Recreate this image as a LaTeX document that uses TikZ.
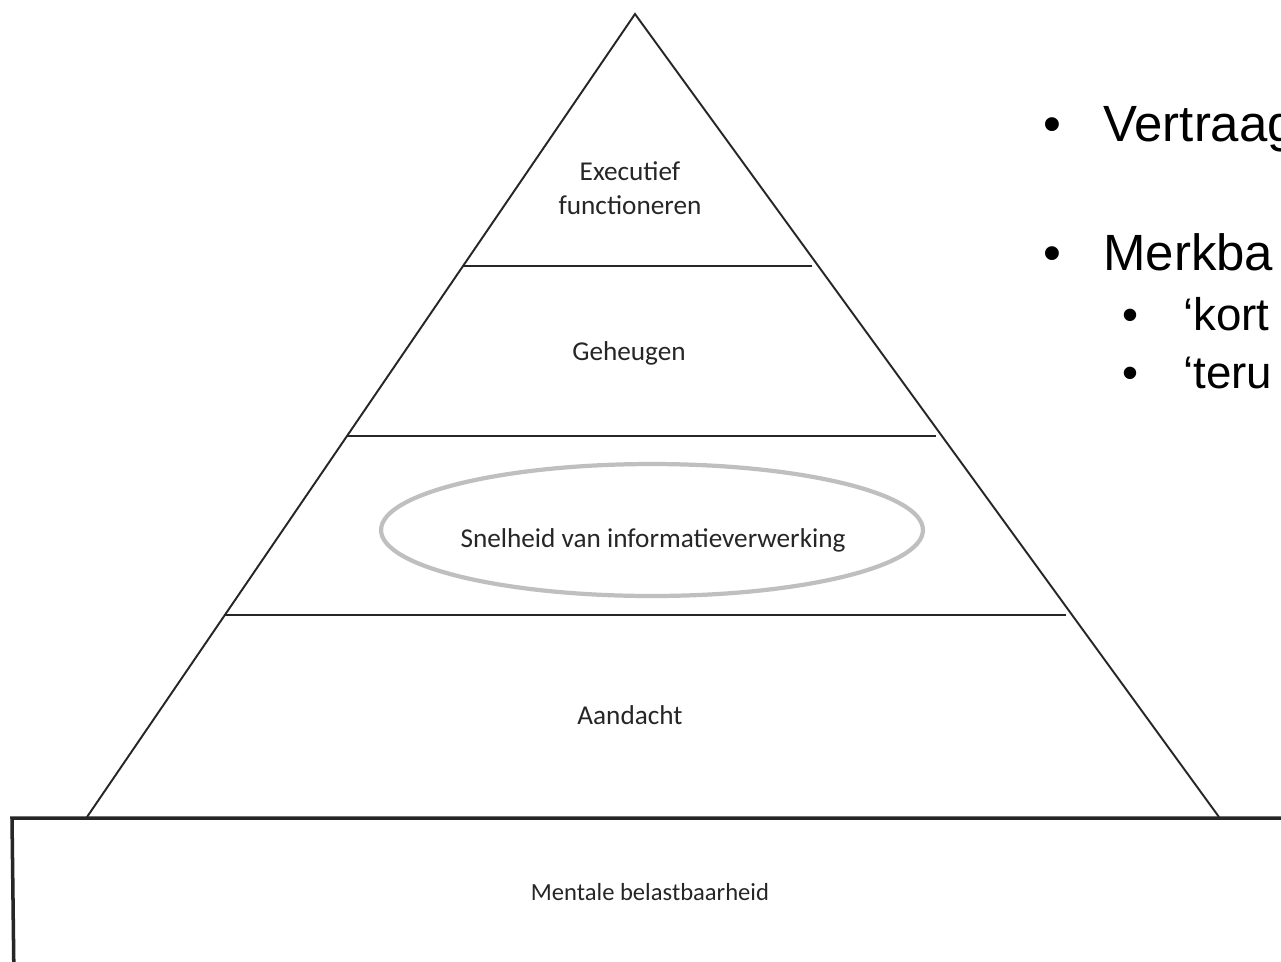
\documentclass[tikz,border=0pt]{standalone}
\usepackage{fontspec}
\setmainfont{Carlito}
\newfontfamily\slidefont{Liberation Sans}
\usetikzlibrary{calc}
\tikzstyle{layer} =
        [
                text = black!85,
                % draw,
                font = \fontsize{15.5}{19}\selectfont,
                align = center,
                inner sep = 0pt
        ]
\tikzstyle{rim} =
        [
                line width = 1.1pt,
                draw = black!85
        ]
\tikzstyle{ring} =
        [
                line width = 2.4pt,
                draw = black!25
        ]
\tikzstyle{item} =
        [
                anchor = base west,
                inner sep = 0pt,
                font = \slidefont\fontsize{29}{34}\selectfont
        ]
\tikzstyle{subitem} =
        [
                item,
                font = \slidefont\fontsize{26}{31}\selectfont
        ]

\begin{document}
\begin{tikzpicture}[x=0.02cm, y=-0.02cm]
    \useasboundingbox (0,0) rectangle (1281,961);
    \clip (0,0) rectangle (1281,961);
    \fill [white] (0,0) rectangle (1281,961);
    % pyramid
    \coordinate (apex) at (635,14);
    \coordinate (baseL) at (87,817);
    \coordinate (baseR) at (1219,817);
    \draw [rim] (baseL) -- (apex) -- (baseR);
    \foreach \t in {0.314, 0.525, 0.749}
        \draw [rim] ($(apex)!\t!(baseL)$) -- ($(apex)!\t!(baseR) + (-6,0)$);
    % base block
    \draw [line width = 2pt, draw = black!85] (1300,818) -- (12,818) -- (14,980);
    \draw [ring] (652,530) ellipse [x radius = 5.42cm, y radius = 1.32cm];
    \node [layer] (exec) at (630,188) {Executief\\functioneren};
    \node [layer] (memory) at (629,353) {Geheugen};
    \node [layer] (speed) at (653,540) {Snelheid van informatieverwerking};
    \node [layer] (attention) at (630,715) {Aandacht};
    \node [layer, font = \fontsize{14}{17}\selectfont] (mental) at (650,892) {Mentale belastbaarheid};
    % slide text
    \node [item] (dotA) at (1043,141) {•};
    \node [item] (delay) at (1103,141) {Vertraag};
    \node [item] (dotB) at (1043,270) {•};
    \node [item] (noticeable) at (1103,270) {Merkba};
    \node [subitem] (dotC) at (1122,330) {•};
    \node [subitem] (short) at (1183,330) {‘kort};
    \node [subitem] (dotD) at (1122,388) {•};
    \node [subitem] (back) at (1183,388) {‘teru};
\end{tikzpicture}
\end{document}
